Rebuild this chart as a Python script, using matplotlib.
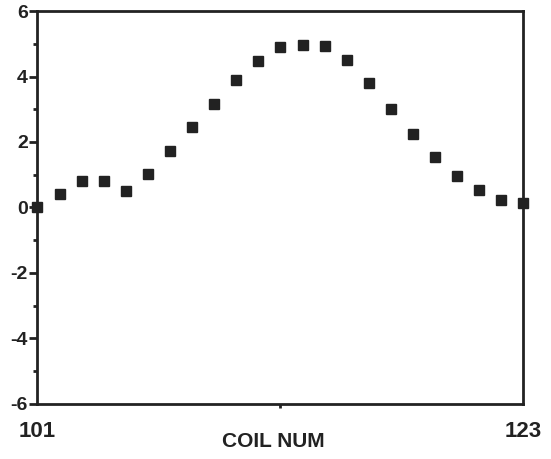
import numpy as np
import matplotlib
matplotlib.use("Agg")
import matplotlib.pyplot as plt
from matplotlib.ticker import MultipleLocator, FixedLocator

# Data
coil = list(range(101, 124))
value = [0.00, 0.40, 0.82, 0.82, 0.51, 1.02, 1.72, 2.45, 3.17, 3.88, 4.47, 4.90,
         4.96, 4.92, 4.49, 3.80, 3.02, 2.23, 1.53, 0.95, 0.53, 0.22, 0.13]
yticks = [-6, -4, -2, 0, 2, 4, 6]
xticks = [101, 123]

plt.rcParams['font.family'] = ['Liberation Sans', 'DejaVu Sans']
plt.rcParams['font.weight'] = 'bold'
plt.rcParams['axes.unicode_minus'] = False

ink = "#222222"
fig = plt.figure(figsize=(5.51, 4.59), dpi=100)
ax = fig.add_axes([0.068, 0.12, 0.882, 0.856])

ax.plot(coil, value, linestyle="none", marker="s", markersize=7,
        color=ink, clip_on=False, zorder=3)

ax.set_xlim(101, 123)
ax.set_ylim(-6, 6)
ax.set_yticks(yticks)
ax.yaxis.set_minor_locator(MultipleLocator(1))
ax.set_xticks(xticks)
ax.xaxis.set_minor_locator(FixedLocator([112]))

for s in ax.spines.values():
    s.set_linewidth(2)
    s.set_color(ink)

ax.tick_params(axis="y", which="major", length=6, width=2, color=ink,
               labelsize=14, labelcolor=ink, pad=1)
ax.tick_params(axis="y", which="minor", length=3, width=2, color=ink)
ax.tick_params(axis="x", which="major", length=0, labelsize=16,
               labelcolor=ink, pad=12)
ax.tick_params(axis="x", which="minor", length=3, width=2, color=ink)
plt.setp(ax.get_xticklabels() + ax.get_yticklabels(), fontweight="bold")

ax.set_xlabel("COIL NUM", fontsize=15, fontweight="bold", color=ink)
ax.xaxis.set_label_coords(0.485, -0.072)

fig.savefig("out.png", dpi=100)
